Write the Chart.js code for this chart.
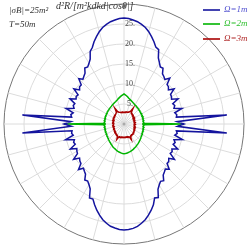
<!DOCTYPE html>
<html>
<head>
<meta charset="utf-8">
<script src="https://cdn.jsdelivr.net/npm/chart.js@4/dist/chart.umd.min.js"></script>
<style>
html,body{margin:0;padding:0;background:#fff;}
canvas{display:block;}
</style>
</head>
<body>
<canvas id="c" width="249" height="249"></canvas>
<script>
// Angles in degrees, clockwise from the top (vertical) axis
const angleDeg = [0,2.5,5,7.5,10,12.5,15,17.5,20,22.5,25,27.5,30,32.5,35,37.5,40,42.5,45,47.5,50,52.5,55,57.5,60,62.5,65,67.5,70,72.5,75,77.5,80,82.5,85,87.5,
90,92.5,95,97.5,100,102.5,105,107.5,110,112.5,115,117.5,120,122.5,125,127.5,130,132.5,135,137.5,140,142.5,145,147.5,150,152.5,155,157.5,160,162.5,165,167.5,170,172.5,175,177.5,
180,182.5,185,187.5,190,192.5,195,197.5,200,202.5,205,207.5,210,212.5,215,217.5,220,222.5,225,227.5,230,232.5,235,237.5,240,242.5,245,247.5,250,252.5,255,257.5,260,262.5,265,267.5,
270,272.5,275,277.5,280,282.5,285,287.5,290,292.5,295,297.5,300,302.5,305,307.5,310,312.5,315,317.5,320,322.5,325,327.5,330,332.5,335,337.5,340,342.5,345,347.5,350,352.5,355,357.5];

// Omega = 1m (blue)
const omega1 = [26.5,26.4,26.1,25.8,25.3,24.7,23.9,22.9,21.9,20.8,20.5,18.6,17.7,16.9,17.0,15.8,15.5,15.1,16.2,14.6,14.5,14.0,15.3,13.8,13.7,13.4,14.9,13.2,13.5,13.1,15.0,13.0,13.4,13.2,25.8,13.3,
15.0,13.4,25.8,13.2,13.5,13.0,15.1,13.1,13.6,13.3,14.8,13.5,13.9,13.7,15.4,14.1,14.6,14.6,16.0,15.3,15.7,16.1,17.3,17.0,17.6,18.4,20.3,20.0,21.5,22.6,23.6,24.5,25.2,25.8,26.2,26.4,
26.5,26.4,26.1,25.8,25.2,24.5,23.6,22.6,21.5,20.3,20.4,18.3,17.5,16.9,17.1,15.8,15.4,15.0,16.1,14.6,14.4,14.0,15.4,13.8,13.6,13.3,14.8,13.2,13.4,13.0,15.1,13.0,13.3,13.1,25.5,13.2,
15.0,13.3,25.5,13.2,13.5,13.0,15.0,13.1,13.5,13.3,14.9,13.5,13.8,13.6,15.3,14.0,14.5,14.5,16.0,15.2,15.6,16.0,17.1,16.9,17.5,18.3,20.0,20.7,21.9,22.9,23.9,24.7,25.3,25.8,26.1,26.4];

// Omega = 2m (green)
const omega2 = [7.5,7.3,7.1,6.85,6.6,6.4,6.25,6.1,5.95,5.8,5.7,5.6,5.5,5.45,5.4,5.3,5.3,5.2,5.2,5.1,5.15,5.0,5.1,4.95,5.1,4.9,5.05,4.85,5.1,4.85,5.0,4.8,5.0,4.8,4.95,4.8,
15.0,4.8,4.95,4.8,5.05,4.85,5.05,4.9,5.15,5.0,5.15,5.05,5.3,5.2,5.35,5.35,5.5,5.55,5.65,5.75,5.85,5.95,6.05,6.15,6.25,6.4,6.5,6.6,6.75,6.85,6.95,7.05,7.15,7.25,7.35,7.4,
7.45,7.4,7.3,7.2,7.1,7.0,6.9,6.75,6.6,6.5,6.4,6.25,6.1,6.0,5.85,5.75,5.65,5.55,5.5,5.35,5.35,5.2,5.25,5.05,5.15,4.95,5.1,4.9,5.05,4.85,5.0,4.8,5.0,4.8,4.95,4.8,
15.0,4.8,4.95,4.8,5.0,4.8,5.0,4.85,5.05,4.9,5.05,4.95,5.1,5.0,5.15,5.1,5.2,5.2,5.25,5.3,5.35,5.4,5.45,5.55,5.6,5.7,5.8,5.9,6.0,6.15,6.3,6.5,6.7,6.9,7.1,7.3];

// Omega = 3m (red)
const omega3 = [2.9,2.9,3.0,2.9,3.0,3.1,3.0,3.1,3.2,3.2,3.4,3.6,4.5,3.4,3.2,3.3,3.1,3.2,3.0,3.1,2.9,3.0,2.8,3.0,2.7,2.9,2.7,2.8,2.6,2.8,2.6,2.7,2.6,2.8,2.6,2.7,
2.6,2.8,2.6,2.7,2.6,2.8,2.7,2.9,2.7,2.9,2.8,3.0,2.9,3.1,3.0,3.2,3.1,3.3,3.2,3.4,3.3,3.4,3.3,3.5,3.4,3.6,4.3,3.5,3.4,3.5,3.3,3.4,3.3,3.4,3.3,3.4,
3.3,3.4,3.3,3.4,3.3,3.5,3.4,3.5,3.4,3.6,4.2,3.5,3.3,3.4,3.2,3.3,3.1,3.2,3.0,3.1,2.9,3.0,2.8,2.9,2.8,2.9,2.7,2.8,2.7,2.8,2.6,2.8,2.7,2.8,2.6,2.7,
2.7,2.8,2.6,2.8,2.7,2.8,2.7,2.9,2.7,2.9,2.8,3.0,2.9,3.0,2.9,3.1,3.0,3.2,3.1,3.2,3.2,3.3,3.4,3.5,4.5,3.6,3.3,3.2,3.1,3.0,3.0,2.9,3.0,2.9,3.0,2.9];

const seriesLabels = ['Ω=1m', 'Ω=2m', 'Ω=3m'];
const radialMax = 30;
const radialStep = 5;

const overlay = {
  id: 'overlay',
  afterDraw(chart) {
    const ctx = chart.ctx;
    const r = chart.scales.r;
    ctx.save();
    // centre dot
    ctx.fillStyle = '#aaa';
    ctx.beginPath();
    ctx.arc(r.xCenter, r.yCenter, 1.5, 0, Math.PI * 2);
    ctx.fill();
    ctx.textBaseline = 'middle';
    ctx.textAlign = 'left';
    ctx.fillStyle = '#333';
    ctx.font = 'italic 9px "Liberation Serif"';
    ctx.fillText('|σB|=25m²', 9, 11);
    ctx.fillText('T=50m', 9, 25);
    ctx.font = 'italic 10px "Liberation Serif"';
    ctx.fillText('d²R/[m²kdkd|cosθ|]', 56, 6);
    ctx.font = '6px "DejaVu Sans"';
    ctx.textAlign = 'center';
    ctx.fillStyle = '#666';
    ctx.fillText('▲', r.xCenter, 5);
    // legend
    const ys = [10, 24, 39];
    const txtCol = ['#5050d0', '#30c030', '#b02828'];
    chart.data.datasets.forEach((ds, i) => {
      ctx.strokeStyle = ds.borderColor;
      ctx.lineWidth = 1.6;
      ctx.beginPath();
      ctx.moveTo(203, ys[i]);
      ctx.lineTo(220, ys[i]);
      ctx.stroke();
      ctx.fillStyle = txtCol[i];
      ctx.textAlign = 'left';
      ctx.font = 'italic 9px "Liberation Serif"';
      ctx.fillText(ds.label, 224, ys[i]);
    });
    ctx.restore();
  }
};

new Chart(document.getElementById('c'), {
  type: 'radar',
  data: {
    labels: angleDeg,
    datasets: [
      {label: seriesLabels[0], data: omega1, borderColor: '#14149e', borderWidth: 1.5},
      {label: seriesLabels[1], data: omega2, borderColor: '#00b400', borderWidth: 1.5},
      {label: seriesLabels[2], data: omega3, borderColor: '#a80000', borderWidth: 1.5}
    ]
  },
  options: {
    responsive: false,
    animation: false,
    layout: {padding: 0},
    elements: {point: {radius: 0, hoverRadius: 0}, line: {fill: false, tension: 0}},
    plugins: {legend: {display: false}, tooltip: {enabled: false}},
    scales: {
      r: {
        min: 0,
        max: radialMax,
        startAngle: 0,
        grid: {
          circular: true,
          color: (c) => (c.tick && c.tick.value === radialMax) ? '#777' : '#dcdcdc',
          lineWidth: 1
        },
        angleLines: {
          color: (c) => (c.index % 6 === 0) ? '#dcdcdc' : 'rgba(0,0,0,0)',
          lineWidth: 1
        },
        pointLabels: {display: false},
        ticks: {
          stepSize: radialStep,
          showLabelBackdrop: false,
          backdropPadding: 0,
          color: '#444',
          font: {family: 'Liberation Serif', size: 8},
          callback: (v) => (v > 0 && v < radialMax) ? '\u2002\u2002\u2002' + v + '.' : ''
        }
      }
    }
  },
  plugins: [overlay]
});
</script>
</body>
</html>
